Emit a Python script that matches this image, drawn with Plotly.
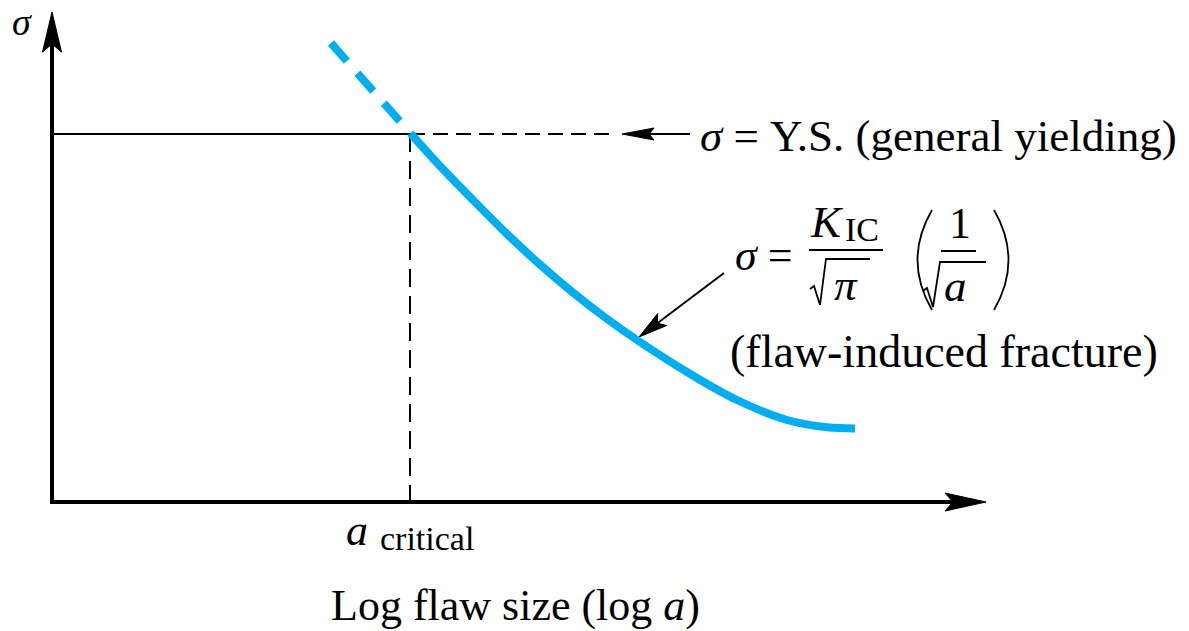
import numpy as np
import plotly.graph_objects as go

# ---- data (drawing units: 1 unit = 1 px, y grows downward) ----
axis_origin = [52, 502]          # corner of the two axes
y_axis_tip = [52, 12]
x_axis_tip = [986, 502]

yield_level = 134                # sigma = Y.S.
a_critical = 410

# fracture curve sigma ~ 1/sqrt(a), drawn on log a
curve_x = [411, 440, 473, 507, 540, 573, 607, 640, 687, 737, 787, 827, 855]
curve_y = [134, 166, 200, 234, 264.6, 292.7, 318.9, 342, 372, 400, 420, 427.3, 428.4]

# extrapolated (dashed) part above the yield level
ext_x = [331, 411]
ext_y = [43, 134]

ys_arrow_tail = [690, 134]
ys_arrow_tip = [622, 134]
kic_arrow_tail = [724, 273]
kic_arrow_tip = [639, 337]

BLUE = "#00AEEF"
SERIF = "Liberation Serif"

fig = go.Figure()


def line(xs, ys, width, color="black", dash="solid", shape="linear"):
    fig.add_trace(go.Scatter(x=xs, y=ys, mode="lines",
                             line=dict(color=color, width=width, dash=dash, shape=shape,
                                       smoothing=1.0 if shape == "spline" else None),
                             hoverinfo="skip", showlegend=False))


def head(tip, tail, length, half_w, notch=0.0):
    """Filled dart-shaped arrow head pointing from tail towards tip."""
    tip = np.asarray(tip, float)
    d = tip - np.asarray(tail, float)
    d /= np.hypot(*d)
    n = np.array([-d[1], d[0]])
    base = tip - d * length
    pts = [tip, base + n * half_w, tip - d * (length - notch), base - n * half_w, tip]
    xs, ys = zip(*pts)
    fig.add_trace(go.Scatter(x=xs, y=ys, mode="lines", fill="toself",
                             fillcolor="black", line=dict(color="black", width=1),
                             hoverinfo="skip", showlegend=False))


# axes
line([axis_origin[0], y_axis_tip[0]], [axis_origin[1] + 2, y_axis_tip[1] + 30], 4)
head(y_axis_tip, axis_origin, 40, 9.5, 8)
line([axis_origin[0] - 2, x_axis_tip[0] - 30], [axis_origin[1], x_axis_tip[1]], 4)
head(x_axis_tip, axis_origin, 41, 9, 8)

# yield level: solid up to a_critical, dashed beyond
line([axis_origin[0], a_critical], [yield_level, yield_level], 2)
line([a_critical, 612], [yield_level, yield_level], 2, dash="15px,8px")
# a_critical drop line
line([a_critical, a_critical], [yield_level, axis_origin[1]], 2, dash="18px,9px")

# pointer arrows
line([ys_arrow_tail[0], ys_arrow_tip[0] + 20], [ys_arrow_tail[1], ys_arrow_tip[1]], 2)
head(ys_arrow_tip, ys_arrow_tail, 32, 6, 5)
kd = np.subtract(kic_arrow_tip, kic_arrow_tail)
kd = kd / np.hypot(*kd)
line([kic_arrow_tail[0], kic_arrow_tip[0] - kd[0] * 20],
     [kic_arrow_tail[1], kic_arrow_tip[1] - kd[1] * 20], 2)
head(kic_arrow_tip, kic_arrow_tail, 29, 7.5, 6)

# fracture curve
line(ext_x, ext_y, 8, color=BLUE, dash="24px,16px")
line(curve_x, curve_y, 8, color=BLUE, shape="spline")


def text(x, y, s, size, xanchor="center", yanchor="middle"):
    fig.add_annotation(x=x, y=y, text=s, showarrow=False, xanchor=xanchor, yanchor=yanchor,
                       font=dict(family=SERIF, size=size, color="black"))


text(22, 22, "<i>σ</i>", 38)
text(698, 136, "<i>σ</i> = Y.S. (general yielding)", 45, xanchor="left")
text(944, 351, "(flaw-induced fracture)", 46)
text(515, 605, "Log flaw size (log <i>a</i>)", 44)
text(357, 530, "<i>a</i>", 44)
text(427, 538, "critical", 34)

# formula  sigma = K_IC / sqrt(pi) * (1 / sqrt(a))
text(733, 255, "<i>σ</i> =", 44, xanchor="left")
text(826, 222, "<i>K</i>", 45)
text(862, 229, "IC", 34)
text(846, 285, "<i>π</i>", 45)
text(960, 223, "1", 44)
text(955, 286, "<i>a</i>", 45)

shape_line = dict(color="black", width=1.8)
fig.add_shape(type="line", x0=809, x1=883, y0=250, y1=250, line=shape_line)
fig.add_shape(type="line", x0=941, x1=976, y0=251, y1=251, line=shape_line)
fig.add_shape(type="path", path="M 810 289 L 814 286 L 820 305 L 826 259 L 870 259", line=shape_line)
fig.add_shape(type="path", path="M 923 291 L 927 288 L 933 307 L 940 262 L 986 262", line=shape_line)
fig.add_shape(type="path", path="M 932 210 Q 903 260 932 310", line=shape_line)
fig.add_shape(type="path", path="M 994 210 Q 1023 260 994 310", line=shape_line)

fig.update_layout(
    width=1189, height=631,
    margin=dict(l=0, r=0, t=0, b=0),
    paper_bgcolor="white", plot_bgcolor="white",
    xaxis=dict(range=[0, 1189], visible=False, fixedrange=True),
    yaxis=dict(range=[631, 0], visible=False, fixedrange=True),
    showlegend=False,
)

fig.write_html("out.html")
